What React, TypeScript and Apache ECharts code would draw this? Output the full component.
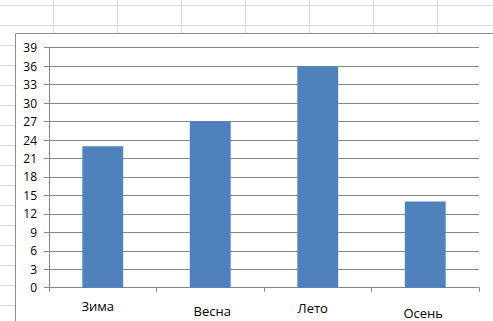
import React, { useEffect, useRef } from "react";
import * as echarts from "echarts";

const categories = ["Зима", "Весна", "Лето", "Осень"];
const values = [23, 27, 36, 14];
const labelOffsetsY = [0, 5, 2, 7];
const labelOffsetsX = [-5, 2, -5, -2];

export default function App() {
  const ref = useRef<HTMLDivElement>(null);
  useEffect(() => {
    if (!ref.current) return;
    const chart = echarts.init(ref.current, null, { renderer: "svg" });
    const sheet: any[] = [];
    for (let x = 53; x < 493; x += 64) {
      sheet.push({ type: "line", shape: { x1: x + 0.5, y1: 0, x2: x + 0.5, y2: 321 }, style: { stroke: "#d9d9d9", lineWidth: 1 }, z: -10 });
    }
    for (let y = 5; y < 321; y += 20) {
      sheet.push({ type: "line", shape: { x1: 0, y1: y + 0.5, x2: 493, y2: y + 0.5 }, style: { stroke: "#d9d9d9", lineWidth: 1 }, z: -10 });
    }
    sheet.push({
      type: "rect",
      shape: { x: 15.5, y: 33.5, width: 500, height: 300 },
      style: { fill: "#ffffff", stroke: "#8c8c8c", lineWidth: 1 },
      z: -5,
    });
    const rich: any = {};
    labelOffsetsY.forEach((o, i) => {
      const dx = labelOffsetsX[i];
      rich["l" + i] = {
        padding: [o, dx < 0 ? -2 * dx : 0, 0, dx > 0 ? 2 * dx : 0],
        fontSize: 13,
        color: "#000",
        fontFamily: "Open Sans",
      };
    });
    chart.setOption({
      animation: false,
      graphic: sheet,
      grid: { left: 49, right: 14, top: 47.7, bottom: 33.3, containLabel: false },
      xAxis: {
        type: "category",
        data: categories,
        axisLine: { lineStyle: { color: "#868686" } },
        axisTick: { show: true, length: 4, alignWithLabel: false, lineStyle: { color: "#868686" } },
        axisLabel: {
          margin: 12,
          interval: 0,
          formatter: (v: string, i: number) => `{l${i}|${v}}`,
          rich,
        },
      },
      yAxis: {
        type: "value",
        min: 0,
        max: 39,
        interval: 3,
        axisLine: { show: true, lineStyle: { color: "#868686" } },
        axisTick: { show: true, length: 5, lineStyle: { color: "#868686" } },
        axisLabel: { margin: 12, fontSize: 12, color: "#000", fontFamily: "Open Sans" },
        splitLine: { lineStyle: { color: "#868686" } },
      },
      series: [
        {
          type: "bar",
          data: values,
          barWidth: "38%",
          itemStyle: { color: "#4f81bd" },
        },
      ],
    });
    return () => chart.dispose();
  }, []);
  return (
    <div
      ref={ref}
      style={{ position: "fixed", left: 0, top: 0, width: 493, height: 321, background: "#fff" }}
    />
  );
}
